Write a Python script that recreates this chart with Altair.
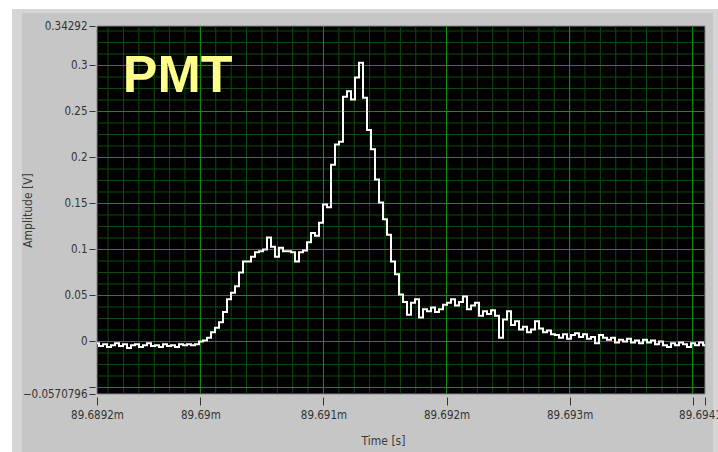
import altair as alt
import numpy as np
import pandas as pd

# ---- PMT trace: evenly sampled amplitude (V) over time (ms) ----
t_start = 89.68916
t_step = 0.0000325
amplitude = [
    -0.002, -0.005, -0.003, -0.006, -0.004, -0.002, -0.005, -0.003, -0.007, -0.004,
    -0.003, -0.006, -0.004, -0.002, -0.005, -0.004, -0.006, -0.003, -0.005, -0.004,
    -0.006, -0.003, -0.004, -0.003, -0.004, -0.003, 0.000, 0.001, 0.004, 0.010,
    0.015, 0.021, 0.032, 0.046, 0.053, 0.060, 0.075, 0.087, 0.087, 0.092,
    0.097, 0.098, 0.100, 0.113, 0.103, 0.092, 0.102, 0.098, 0.098, 0.097,
    0.087, 0.097, 0.099, 0.108, 0.118, 0.115, 0.129, 0.149, 0.146, 0.192,
    0.214, 0.217, 0.266, 0.272, 0.263, 0.287, 0.303, 0.265, 0.230, 0.209,
    0.176, 0.151, 0.133, 0.116, 0.087, 0.073, 0.051, 0.043, 0.029, 0.042,
    0.046, 0.026, 0.035, 0.033, 0.037, 0.032, 0.035, 0.040, 0.042, 0.046,
    0.039, 0.043, 0.049, 0.035, 0.039, 0.042, 0.028, 0.033, 0.030, 0.034,
    0.028, 0.004, 0.024, 0.033, 0.018, 0.022, 0.013, 0.016, 0.010, 0.013,
    0.022, 0.014, 0.010, 0.012, 0.008, 0.007, 0.004, 0.008, 0.003, 0.007,
    0.009, 0.005, 0.008, 0.003, 0.005, -0.002, 0.007, 0.004, 0.002, 0.004,
    -0.001, 0.002, 0.000, 0.003, -0.001, 0.001, -0.002, 0.002, -0.001, 0.001,
    -0.003, 0.000, -0.004, -0.006, -0.002, -0.004, -0.001, -0.003, -0.006, -0.002,
    -0.004, -0.001, -0.004,
]
time_ms = [round(t_start + i * t_step, 7) for i in range(len(amplitude))]

# ---- scale ends, tick marks and grid ----
x_domain = [89.68916, 89.6941]
y_domain = [-0.0570796, 0.34292]
x_ticks = [89.68916, 89.69, 89.691, 89.692, 89.693, 89.694, 89.6941]
y_ticks = [-0.0570796, -0.05, 0.0, 0.05, 0.1, 0.15, 0.2, 0.25, 0.3, 0.34292]
x_major = [89.69, 89.691, 89.692, 89.693, 89.694]
y_major = [-0.05, 0.0, 0.05, 0.1, 0.15, 0.2, 0.25, 0.3]
x_minor = list(np.round(np.arange(89.68925, 89.6941, 0.000125), 6))
y_minor = list(np.round(np.arange(-0.05, 0.3426, 0.0125), 4))

# ---- annotation ----
label_text = ["PMT"]
label_t = [89.68937]
label_v = [0.2707]

W, H = 608, 368
FONT = "Liberation Sans Narrow, DejaVu Sans Condensed, Liberation Sans, sans-serif"

xs = alt.Scale(domain=x_domain, nice=False, zero=False)
ys = alt.Scale(domain=y_domain, nice=False, zero=False)

x_axis = alt.Axis(
    values=x_ticks, format=".6~g",
    labelExpr="abs(datum.value - 89.694) < 0.00001 ? '' : datum.label + 'm'",
    title="Time [s]", titleX=286, titleY=43, titleAlign="center", titleBaseline="middle",
    titleFont=FONT, titleFontSize=12, titleFontWeight="normal", titleColor="#3a3a3a",
    labelFont=FONT, labelFontSize=11.5, labelColor="#333333",
    grid=False, domain=False, offset=3, tickSize=8, tickColor="#333333",
    labelPadding=4, labelOverlap=False, labelFlush=False, labelBound=False,
    zindex=1,
)
y_axis = alt.Axis(
    values=y_ticks, format=".6~g",
    labelExpr="datum.value == -0.05 ? '' : datum.label",
    title="Amplitude [V]", titleAngle=270, titleX=-68, titleY=184,
    titleAlign="center", titleBaseline="middle",
    titleFont=FONT, titleFontSize=12, titleFontWeight="normal", titleColor="#3a3a3a",
    labelFont=FONT, labelFontSize=11.5, labelColor="#333333",
    grid=False, domain=False, offset=2, tickSize=6, tickColor="#333333",
    labelPadding=2, labelOverlap=False, labelFlush=False, labelBound=False,
    zindex=1,
)

one = pd.DataFrame({"k": [0]})

# panel behind the graph
panel_edge = alt.Chart(one).mark_rect(color="#d5d5d5", clip=False).encode(
    x=alt.value(-85), x2=alt.value(621), y=alt.value(-17), y2=alt.value(426)
)
panel = alt.Chart(one).mark_rect(color="#c6c6c6", clip=False).encode(
    x=alt.value(-75), x2=alt.value(616), y=alt.value(-13), y2=alt.value(426)
)
screen = alt.Chart(one).mark_rect(color="black", stroke="#8a8a8a", strokeWidth=1).encode(
    x=alt.value(0), x2=alt.value(W), y=alt.value(0), y2=alt.value(H)
)

# graticule: dim minor lines, brighter major lines
vminor = alt.Chart(pd.DataFrame({"t": x_minor})).mark_rule(color="#0b4d0b", strokeWidth=1).encode(
    x=alt.X("t:Q", scale=xs, axis=x_axis)
)
hminor = alt.Chart(pd.DataFrame({"v": y_minor})).mark_rule(color="#0b4d0b", strokeWidth=1).encode(
    y=alt.Y("v:Q", scale=ys, axis=y_axis)
)
vmajor = alt.Chart(pd.DataFrame({"t": x_major})).mark_rule(color="#129212", strokeWidth=1).encode(
    x=alt.X("t:Q", scale=xs, axis=x_axis)
)
hmajor = alt.Chart(pd.DataFrame({"v": y_major})).mark_rule(color="#129212", strokeWidth=1).encode(
    y=alt.Y("v:Q", scale=ys, axis=y_axis)
)

trace = alt.Chart(pd.DataFrame({"t": time_ms, "v": amplitude})).mark_line(
    color="white", strokeWidth=2, interpolate="step"
).encode(
    x=alt.X("t:Q", scale=xs, axis=x_axis),
    y=alt.Y("v:Q", scale=ys, axis=y_axis),
)

tag = alt.Chart(pd.DataFrame({"t": label_t, "v": label_v, "s": label_text})).mark_text(
    font="Liberation Sans", fontSize=52, fontWeight="bold", color="#ffff8a",
    align="left", baseline="alphabetic",
).encode(
    x=alt.X("t:Q", scale=xs, axis=x_axis),
    y=alt.Y("v:Q", scale=ys, axis=y_axis),
    text="s:N",
)

chart = alt.layer(
    panel_edge, panel, screen, vminor, hminor, vmajor, hmajor, trace, tag
).properties(
    width=W, height=H,
    padding={"left": 97, "top": 26, "right": 13, "bottom": 58},
    autosize=alt.AutoSizeParams(type="none"),
    background="white",
).configure_view(stroke=None)

chart.save("out.html", embed_options={"renderer": "svg", "actions": False})
